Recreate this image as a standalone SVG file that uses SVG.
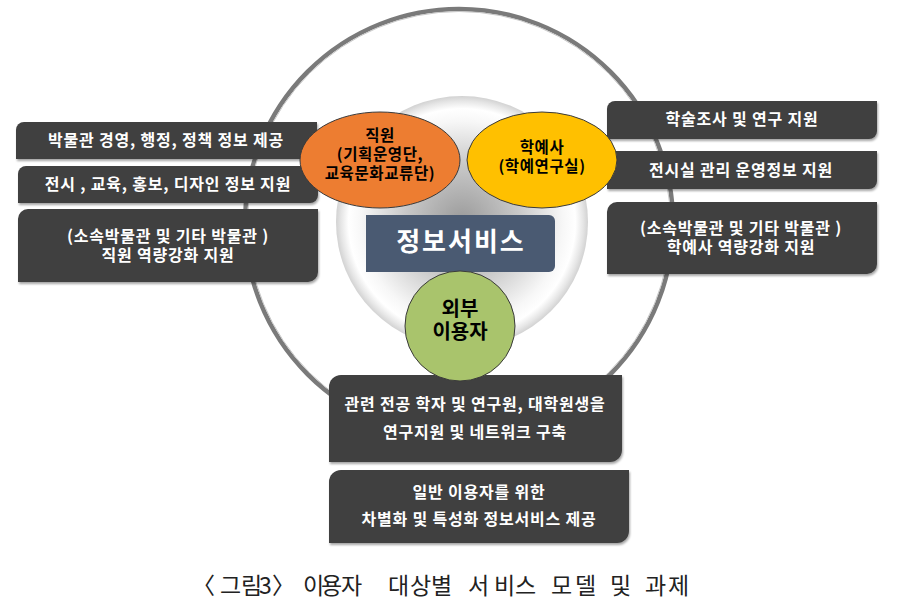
<svg xmlns="http://www.w3.org/2000/svg" width="908" height="609" viewBox="0 0 908 609">
  <defs>
    <radialGradient id="innerGrad" cx="0.5" cy="0.5" r="0.5">
      <stop offset="0" stop-color="#9a9a9a"/>
      <stop offset="0.45" stop-color="#c8c8c8"/>
      <stop offset="0.8" stop-color="#f7f7f7"/>
      <stop offset="0.9" stop-color="#ffffff"/>
      <stop offset="0.96" stop-color="#e6e6e6"/>
      <stop offset="1" stop-color="#d2d2d2"/>
    </radialGradient>
    <filter id="shadow" x="-5%" y="-10%" width="115%" height="130%">
      <feDropShadow dx="1" dy="2" stdDeviation="1.2" flood-color="#000" flood-opacity="0.35"/>
    </filter>
  </defs>
  <style>
    .box { fill: #3f3f3f; filter: url(#shadow); }
    .bt { font-family: "Noto Sans CJK KR", "Liberation Sans", sans-serif; font-size: 16px; font-weight: bold; fill: #ffffff; text-anchor: middle; letter-spacing: 0.8px; }
    .et { font-family: "Noto Sans CJK KR", "Liberation Sans", sans-serif; font-size: 15.5px; font-weight: bold; fill: #000000; text-anchor: middle; letter-spacing: 0.6px; }
    .cap { font-family: "Noto Sans CJK KR", "Liberation Sans", sans-serif; font-size: 23px; fill: #222222; }
    .ell { stroke: #3a3a3a; stroke-width: 1; }
  </style>
  <rect width="908" height="609" fill="#ffffff"/>

  <g id="outer-ring">
    <circle cx="459" cy="223" r="214" fill="none" stroke="#7a7a7a" stroke-width="4.5"/>
    <circle cx="459" cy="223" r="211.5" fill="none" stroke="#c8c8c8" stroke-width="1"/>
  </g>

  <g id="inner-circle">
    <circle cx="462" cy="222" r="126" fill="url(#innerGrad)"/>
  </g>

  <g id="box-left-1">
    <path class="box" d="M24 122 H317 V151 A8 8 0 0 1 309 159 H16 V130 A8 8 0 0 1 24 122 Z"/>
    <text class="bt" x="166" y="146">박물관 경영, 행정, 정책 정보 제공</text>
  </g>
  <g id="box-left-2">
    <path class="box" d="M26 166 H318 V195 A8 8 0 0 1 310 203 H18 V174 A8 8 0 0 1 26 166 Z"/>
    <text class="bt" x="168" y="190">전시 , 교육, 홍보, 디자인 정보 지원</text>
  </g>
  <g id="box-left-3">
    <path class="box" d="M28 209 H318 V272 A10 10 0 0 1 308 282 H18 V219 A10 10 0 0 1 28 209 Z"/>
    <text class="bt" x="168" y="242">(소속박물관 및 기타 박물관 )</text>
    <text class="bt" x="168" y="261">직원 역량강화 지원</text>
  </g>

  <g id="box-right-1">
    <path class="box" d="M615 101 H877 V131 A8 8 0 0 1 869 139 H607 V109 A8 8 0 0 1 615 101 Z"/>
    <text class="bt" x="742" y="125">학술조사 및 연구 지원</text>
  </g>
  <g id="box-right-2">
    <path class="box" d="M615 151 H877 V181 A8 8 0 0 1 869 189 H607 V159 A8 8 0 0 1 615 151 Z"/>
    <text class="bt" x="741" y="176">전시실 관리 운영정보 지원</text>
  </g>
  <g id="box-right-3">
    <path class="box" d="M617 202 H877 V264 A10 10 0 0 1 867 274 H607 V212 A10 10 0 0 1 617 202 Z"/>
    <text class="bt" x="741" y="234">(소속박물관 및 기타 박물관 )</text>
    <text class="bt" x="741" y="253">학예사 역량강화 지원</text>
  </g>

  <g id="box-bottom-1">
    <path class="box" d="M341 375 H622 V450 A12 12 0 0 1 610 462 H329 V387 A12 12 0 0 1 341 375 Z"/>
    <text class="bt" x="475" y="410">관련 전공 학자 및 연구원, 대학원생을</text>
    <text class="bt" x="475" y="438">연구지원 및 네트워크 구축</text>
  </g>
  <g id="box-bottom-2">
    <path class="box" d="M341 470 H629 V531 A12 12 0 0 1 617 543 H329 V482 A12 12 0 0 1 341 470 Z"/>
    <text class="bt" x="479" y="498">일반 이용자를 위한</text>
    <text class="bt" x="479" y="525">차별화 및 특성화 정보서비스 제공</text>
  </g>

  <g id="info-service">
    <path d="M366 215 H549 A6 6 0 0 1 555 221 V266 A6 6 0 0 1 549 272 H366 Z" fill="#4a5a72"/>
    <text x="461" y="251" font-family="'Noto Sans CJK KR', 'Liberation Sans', sans-serif" font-size="26" font-weight="bold" fill="#ffffff" text-anchor="middle" letter-spacing="2">정보서비스</text>
  </g>

  <g id="staff">
    <ellipse class="ell" cx="380" cy="160" rx="80" ry="48" fill="#ed7d31"/>
    <text class="et" x="380" y="141">직원</text>
    <text class="et" x="380" y="160">(기획운영단,</text>
    <text class="et" x="380" y="179">교육문화교류단)</text>
  </g>

  <g id="curator">
    <ellipse class="ell" cx="542" cy="160" rx="75" ry="48" fill="#ffc000"/>
    <text class="et" x="542" y="153">학예사</text>
    <text class="et" x="542" y="172">(학예연구실)</text>
  </g>

  <g id="external">
    <circle class="ell" cx="460" cy="326" r="55" fill="#a9c46c"/>
    <text x="460" y="316" font-family="'Noto Sans CJK KR', 'Liberation Sans', sans-serif" font-size="20" font-weight="bold" fill="#000" text-anchor="middle">외부</text>
    <text x="460" y="339" font-family="'Noto Sans CJK KR', 'Liberation Sans', sans-serif" font-size="20" font-weight="bold" fill="#000" text-anchor="middle">이용자</text>
  </g>

  <g id="connectors"></g>

  <g id="caption">
    <text class="cap" x="215" y="594" text-anchor="end">〈</text>
    <text class="cap" x="220 241" y="594">그림</text>
    <text class="cap" x="259" y="594">3</text>
    <text class="cap" x="272" y="594">〉</text>
    <text class="cap" x="303 321 341" y="594">이용자</text>
    <text class="cap" x="388 410 431" y="594">대상별</text>
    <text class="cap" x="468 494 515" y="594">서비스</text>
    <text class="cap" x="551 575" y="594">모델</text>
    <text class="cap" x="610" y="594">및</text>
    <text class="cap" x="645 668" y="594">과제</text>
  </g>
</svg>
